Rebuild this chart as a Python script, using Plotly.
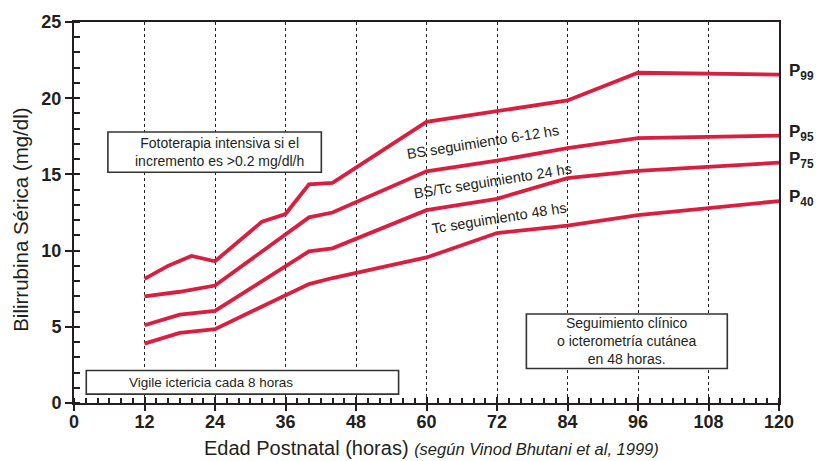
import plotly.graph_objects as go

# Bhutani hour-specific bilirubin nomogram (percentile curves)
hours_p99 = [12, 16, 20, 24, 32, 36, 40, 44, 60, 72, 84, 96, 108, 120]
p99 = [8.14, 9.0, 9.65, 9.3, 11.9, 12.4, 14.35, 14.45, 18.45, 19.14, 19.85, 21.67, 21.6, 21.55]

hours = [12, 18, 24, 36, 40, 44, 60, 72, 84, 96, 108, 120]
p95 = [7.0, 7.3, 7.71, 11.04, 12.18, 12.5, 15.2, 15.9, 16.73, 17.38, 17.46, 17.55]
p75 = [5.1, 5.8, 6.04, 9.0, 9.95, 10.15, 12.65, 13.4, 14.75, 15.23, 15.5, 15.77]
p40 = [3.9, 4.6, 4.85, 7.07, 7.8, 8.2, 9.55, 11.15, 11.64, 12.33, 12.82, 13.25]

curve_names = ["99", "95", "75", "40"]
x_ticks = [0, 12, 24, 36, 48, 60, 72, 84, 96, 108, 120]
y_ticks = [0, 5, 10, 15, 20, 25]

RED = "#d91e3f"
INK = "#231f20"
FONT = "Liberation Sans, Arial, sans-serif"

fig = go.Figure()

series = [(hours_p99, p99), (hours, p95), (hours, p75), (hours, p40)]
for (xs, ys), name in zip(series, curve_names):
    fig.add_trace(go.Scatter(
        x=xs, y=ys, mode="lines", name="P" + name,
        line=dict(color=RED, width=3.8), showlegend=False, hoverinfo="skip",
    ))

# invisible trace that carries the overlay axes used for inner major ticks
fig.add_trace(go.Scatter(x=[0], y=[0], xaxis="x2", yaxis="y2", mode="markers",
                         marker=dict(opacity=0), showlegend=False, hoverinfo="skip"))

# percentile labels at the right edge
for (xs, ys), name in zip(series, curve_names):
    fig.add_annotation(
        x=xs[-1], y=ys[-1], xref="x", yref="y", xanchor="left", yanchor="middle",
        xshift=8, yshift=3, showarrow=False,
        text=f"<b>P<sub>{name}</sub></b>",
        font=dict(family=FONT, size=17, color=INK),
    )

# follow-up zone labels, tilted along the curves
zone_labels = [
    ("BS seguimiento 6-12 hs", 69.7, 17.1),
    ("BS/Tc seguimiento 24 hs", 71.3, 14.55),
    ("Tc seguimiento 48 hs", 72.4, 12.15),
]
for txt, lx, ly in zone_labels:
    fig.add_annotation(x=lx, y=ly, xref="x", yref="y", text=txt, showarrow=False,
                       textangle=-9, font=dict(family=FONT, size=14.5, color=INK))

# boxed notes
boxes = [
    (5.77, 42.1, 15.14, 17.78),
    (77.0, 111.2, 2.26, 5.84),
    (2.09, 55.25, 0.58, 2.13),
]
for x0, x1, y0, y1 in boxes:
    fig.add_shape(type="rect", xref="x", yref="y", x0=x0, x1=x1, y0=y0, y1=y1,
                  line=dict(color="#333333", width=1.6), fillcolor="white", layer="above")

fig.add_annotation(x=(5.77 + 42.1) / 2 + 0.8, y=(15.14 + 17.78) / 2, xref="x", yref="y",
                   text="Fototerapia intensiva si el<br>incremento es >0.2 mg/dl/h",
                   showarrow=False, font=dict(family=FONT, size=14, color=INK))
fig.add_annotation(x=(77.0 + 111.2) / 2, y=(2.26 + 5.84) / 2, xref="x", yref="y",
                   text="Seguimiento clínico<br>o icterometría cutánea<br>en 48 horas.",
                   showarrow=False, font=dict(family=FONT, size=14, color=INK))
fig.add_annotation(x=9.0, y=(0.58 + 2.13) / 2, xref="x", yref="y", xanchor="left",
                   text="Vigile ictericia cada 8 horas",
                   showarrow=False, font=dict(family=FONT, size=13.5, color=INK))

# axis titles
fig.add_annotation(x=0.507, y=-0.118, xref="paper", yref="paper", yanchor="middle",
                   showarrow=False,
                   text="Edad Postnatal (horas) <i><span style='font-size:16.5px'>(según Vinod Bhutani et al, 1999)</span></i>",
                   font=dict(family=FONT, size=20, color=INK))
fig.add_annotation(x=-0.077, y=0.48, xref="paper", yref="paper", xanchor="center",
                   yanchor="middle", textangle=-90, showarrow=False,
                   text="Bilirrubina Sérica (mg/dl)",
                   font=dict(family=FONT, size=20.5, color=INK))

fig.update_layout(
    width=817, height=461,
    margin=dict(l=74, r=38, t=15, b=58),
    plot_bgcolor="white", paper_bgcolor="white",
    font=dict(family=FONT, color=INK),
    xaxis=dict(
        range=[0, 120], tickvals=x_ticks, showticklabels=False,
        showline=True, linecolor=INK, linewidth=2, mirror=True,
        ticks="outside", ticklen=6, tickwidth=2, tickcolor=INK,
        minor=dict(dtick=2, ticks="inside", ticklen=5, tickwidth=1.5, tickcolor=INK,
                   showgrid=False),
        showgrid=True, gridcolor="#222222", gridwidth=1, griddash="dot",
        zeroline=False, fixedrange=True,
    ),
    yaxis=dict(
        range=[0, 25], tickvals=y_ticks, ticktext=[f"<b>{v}</b>" for v in y_ticks],
        tickfont=dict(size=18, color=INK),
        showline=True, linecolor=INK, linewidth=2, mirror=True,
        ticks="outside", ticklen=7, tickwidth=2, tickcolor=INK,
        minor=dict(dtick=1, ticks="inside", ticklen=6, tickwidth=1.5, tickcolor=INK,
                   showgrid=False),
        showgrid=False, zeroline=False, fixedrange=True,
    ),
    xaxis2=dict(range=[0, 120], overlaying="x", anchor="y2", side="bottom",
                tickvals=x_ticks, ticktext=[f"<b>{v}</b>" for v in x_ticks],
                tickfont=dict(size=18, color=INK), ticklabelstandoff=6,
                ticks="inside", ticklen=6, tickwidth=2, tickcolor=INK,
                showgrid=False, showline=False, zeroline=False, fixedrange=True),
    yaxis2=dict(range=[0, 25], overlaying="y", anchor="x2", side="left",
                tickvals=y_ticks, showticklabels=False, ticks="inside", ticklen=6,
                tickwidth=2, tickcolor=INK, showgrid=False, showline=False,
                zeroline=False, fixedrange=True),
)

fig.write_html("out.html")
